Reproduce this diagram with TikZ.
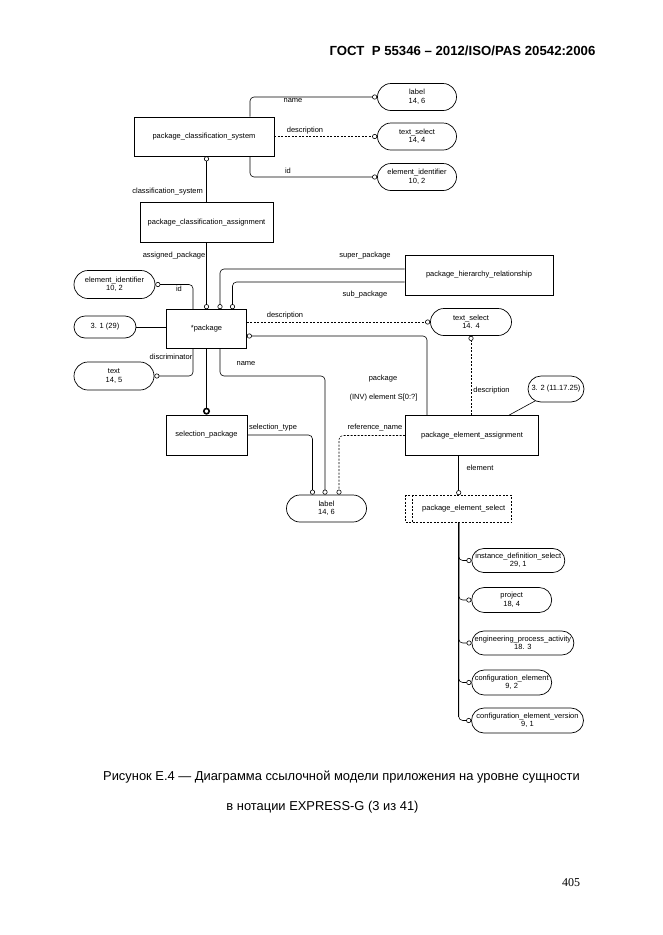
\documentclass[tikz,border=0pt]{standalone}
\usepackage{fontspec}
\setmainfont{Liberation Sans}
\newfontfamily\pnfont{Liberation Serif}
\usetikzlibrary{arrows.meta,calc}
\begin{document}
\begin{tikzpicture}[x=1pt,y=-1pt,
  ent/.style={draw, line width=0.7pt, inner sep=0pt, font=\fontsize{7.5}{9}\selectfont},
  typ/.style 2 args={draw, line width=0.7pt, inner sep=0pt, align=center,
     minimum width=#1, minimum height=#2, rounded corners=0.5*#2,
     font=\fontsize{7.5}{8.5}\selectfont},
  rel/.style={line width=0.6pt, rounded corners=4pt, -{Circle[open,length=5pt,width=5pt]}},
  subrel/.style={line width=1.8pt, -{Circle[open,length=7pt,width=7pt,line width=1.6pt]}},
  dsh/.style={dash pattern=on 2pt off 1.5pt},
  lbl/.style={inner sep=0pt, font=\fontsize{7.5}{9}\selectfont},
  plainline/.style={line width=0.6pt}]
\useasboundingbox (0,0) rectangle (662,935);
\fill[white] (0,0) rectangle (662,935);

% header, caption, page number
\node[inner sep=0pt, font=\bfseries\fontsize{13.2}{15}\selectfont] (hdr) at (462.5,50.7) {ГОСТ\ \ Р 55346 – 2012/ISO/PAS 20542:2006};
\node[inner sep=0pt, font=\fontsize{12.9}{14}\selectfont] (cap1) at (341.5,777.5) {Рисунок Е.4 — Диаграмма ссылочной модели приложения на уровне сущности};
\node[inner sep=0pt, font=\fontsize{12.9}{14}\selectfont] (cap2) at (322.5,807) {в нотации EXPRESS-G (3 из 41)};
\node[inner sep=0pt, font=\pnfont\fontsize{12}{14}\selectfont] (pg) at (571,883) {405};

% entities and types
\node[ent, minimum width=140pt, minimum height=39pt] (pcs) at (204,136.5) {package\_classification\_system};
\node[typ={79pt}{27pt}] (lab1) at (417,97) {label\\14, 6};
\node[typ={79pt}{27pt}] (ts1) at (417,136.5) {text\_select\\14, 4};
\node[typ={79pt}{27pt}] (ei1) at (417,177) {element\_identifier\\10, 2};
\node[ent, minimum width=133pt, minimum height=40pt] (pca) at (206.5,222.5) {package\_classification\_assignment};
\node[ent, minimum width=80pt, minimum height=39pt] (pkg) at (206.5,329) {*package};
\node[typ={81pt}{28pt}] (ei2) at (114.5,284.5) {element\_identifier\\10, 2};
\node[typ={62pt}{22pt}] (o31) at (105,327) {3. 1 (29)};
\node[typ={80pt}{28pt}] (txt) at (114,376) {text\\14, 5};
\node[ent, minimum width=148pt, minimum height=40pt] (phr) at (479,275) {package\_hierarchy\_relationship};
\node[typ={81pt}{27pt}] (ts2) at (471,322) {text\_select\\14. 4};
\node[typ={56pt}{26pt}] (o32) at (556,389) {3. 2 (11.17.25)};
\node[ent, minimum width=133pt, minimum height=40pt] (pea) at (472,435.5) {package\_element\_assignment};
\node[ent, minimum width=81pt, minimum height=40pt] (sel) at (206.5,435) {selection\_package};
\node[typ={80pt}{27pt}] (lab2) at (326.5,508.5) {label\\14, 6};
\node[ent, dsh, minimum width=106pt, minimum height=27pt] (pes) at (458.7,509) {\hspace{10pt}package\_element\_select};
\draw[dsh, line width=0.7pt] ([xshift=7pt]pes.north west) -- ([xshift=7pt]pes.south west);
\node[typ={93pt}{24pt}] (ids) at (518.3,560.5) {instance\_definition\_select\\29, 1};
\node[typ={80pt}{25pt}] (prj) at (511.7,600) {project\\18, 4};
\node[typ={102pt}{24pt}] (epa) at (522.9,643) {engineering\_process\_activity\\18. 3};
\node[typ={80pt}{25pt}] (ce) at (511.7,682.5) {configuration\_element\\9, 2};
\node[typ={112pt}{25pt}] (cev) at (527.5,720.5) {configuration\_element\_version\\9, 1};

% connectors
\draw[rel] ([xshift=46pt]pcs.north) |- (lab1.west);
\draw[rel, dsh] (pcs.east) -- (ts1.west);
\draw[rel] ([xshift=46pt]pcs.south) |- (ei1.west);
\draw[rel] (pca.north) -- (pca.north |- pcs.south);
\draw[rel] (pca.south) -- (pkg.north);
\draw[rel] ([yshift=6pt]phr.west) -| ([xshift=13.5pt]pkg.north);
\draw[rel] ([yshift=-7pt]phr.west) -| ([xshift=26pt]pkg.north);
\draw[rel] ([xshift=-13.5pt]pkg.north) |- (ei2.east);
\draw[plainline] (o31.east) -- (o31.east -| pkg.west);
\draw[rel] ([xshift=-13.5pt]pkg.south) |- (txt.east);
\draw[rel, dsh] (ts2.west -| pkg.east) -- (ts2.west);
\draw[rel] ([xshift=-45pt]pea.north) |- ([yshift=-7pt]pkg.east);
\coordinate (nturn) at (325,376);
\draw[rel] ([xshift=13.5pt]pkg.south) |- (nturn) -- (nturn |- lab2.north);
\draw[subrel] (pkg.south) -- (sel.north);
\draw[rel] (sel.east) -| ([xshift=-14pt]lab2.north);
\draw[rel, dsh] (pea.west) -| ([xshift=12.5pt]lab2.north);
\draw[rel, dsh] (pea.north -| ts2.south) -- (ts2.south);
\draw[plainline] ([xshift=-21pt,yshift=-12pt]o32.center) -- ([xshift=37pt]pea.north);
\draw[rel] (pes.north |- pea.south) -- (pes.north);
\coordinate (trunk) at ($(pes.south |- cev.west)+(0,-4)$);
\draw[line width=1pt] (pes.south) -- (trunk);
\foreach \n in {ids,prj,epa,ce,cev} \draw[rel] (pes.south) |- (\n.west);

% role labels
\node[lbl] (r1) at (293,101) {name};
\node[lbl] (r2) at (305,131) {description};
\node[lbl] (r3) at (288,171) {id};
\node[lbl, anchor=east] (r4) at (203,192) {classification\_system};
\node[lbl, anchor=east] (r5) at (205.5,255.7) {assigned\_package};
\node[lbl] (r6) at (179,289) {id};
\node[lbl] (r7) at (171,357) {discriminator};
\node[lbl] (r8) at (246,364) {name};
\node[lbl] (r9) at (365,256) {super\_package};
\node[lbl] (r10) at (365,295) {sub\_package};
\node[lbl] (r11) at (285,316) {description};
\node[lbl] (r12) at (383,379) {package};
\node[lbl] (r13) at (383.5,398) {(INV) element S[0:?]};
\node[lbl] (r14) at (273,428) {selection\_type};
\node[lbl] (r15) at (375,428) {reference\_name};
\node[lbl] (r16) at (491.5,391) {description};
\node[lbl] (r17) at (480,468) {element};
\end{tikzpicture}
\end{document}
